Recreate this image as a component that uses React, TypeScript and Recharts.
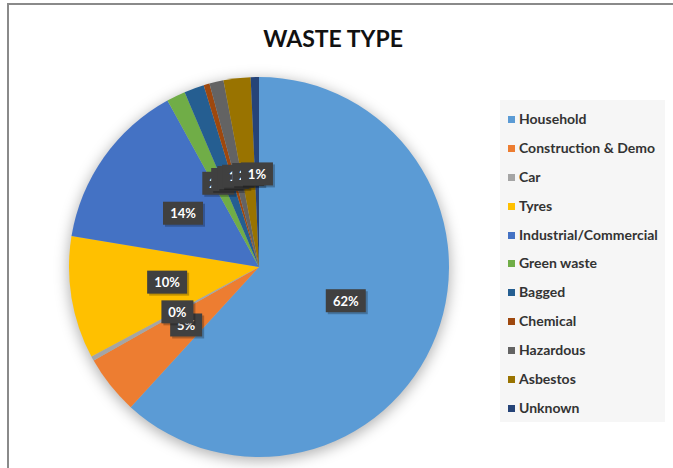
import React from "react";
import { PieChart, Pie, Cell } from "recharts";

const categories = [
  "Household",
  "Construction & Demo",
  "Car",
  "Tyres",
  "Industrial/Commercial",
  "Green waste",
  "Bagged",
  "Chemical",
  "Hazardous",
  "Asbestos",
  "Unknown",
];
const shares = [61.8, 5.0, 0.4, 10.4, 14.4, 1.6, 1.7, 0.5, 1.2, 2.3, 0.7];
const colors = [
  "#5b9bd5",
  "#ed7d31",
  "#a5a5a5",
  "#ffc000",
  "#4472c4",
  "#70ad47",
  "#255e91",
  "#9e480e",
  "#636363",
  "#997300",
  "#264478",
];

const data = categories.map((name, i) => ({ name, value: shares[i] }));
const shadowData = [{ name: "shadow", value: shares.reduce((a, b) => a + b, 0) }];

const FONT = "Lato, 'Open Sans', sans-serif";
const RAD = Math.PI / 180;

const renderLabel = (props: any) => {
  const { cx, cy, midAngle, outerRadius, percent } = props;
  const r = outerRadius * 0.49;
  const x = cx + r * Math.cos(-midAngle * RAD);
  const y = cy + r * Math.sin(-midAngle * RAD);
  const text = `${Math.round(percent * 100)}%`;
  const w = text.length * 8 + 16;
  const h = 23;
  return (
    <g>
      <rect x={x - w / 2 + 2} y={y - h / 2 + 2} width={w} height={h} fill="#000" opacity={0.25} />
      <rect x={x - w / 2} y={y - h / 2} width={w} height={h} fill="#404040" />
      <text
        x={x}
        y={y}
        fill="#fff"
        textAnchor="middle"
        dominantBaseline="central"
        fontFamily={FONT}
        fontWeight={700}
        fontSize={13}
      >
        {text}
      </text>
    </g>
  );
};

const LegendBox = () => (
  <div
    style={{
      position: "absolute",
      left: 500,
      top: 100,
      width: 165,
      height: 322,
      background: "#f6f6f6",
      paddingTop: 10,
      boxSizing: "border-box",
    }}
  >
    {categories.map((name, i) => (
      <div
        key={name}
        style={{
          height: 28.9,
          display: "flex",
          alignItems: "flex-start",
          fontFamily: FONT,
          fontWeight: 700,
          fontSize: 14,
          color: "#333",
          lineHeight: "17px",
          whiteSpace: "nowrap",
        }}
      >
        <span
          style={{
            display: "inline-block",
            width: 7,
            height: 7,
            background: colors[i],
            marginLeft: 8,
            marginRight: 4,
            marginTop: 6,
          }}
        />
        {name}
      </div>
    ))}
  </div>
);

export default function App() {
  return (
    <div
      style={{
        position: "absolute",
        left: 0,
        top: 0,
        width: 673,
        height: 468,
        overflow: "hidden",
        background: "#fff",
      }}
    >
      <div
        style={{
          position: "absolute",
          left: 7,
          top: 3,
          width: 700,
          height: 500,
          border: "2px solid #8a8a8a",
          boxSizing: "border-box",
        }}
      />
      <div
        style={{
          position: "absolute",
          left: 0,
          top: 24,
          width: 666,
          textAlign: "center",
          fontFamily: FONT,
          fontWeight: 700,
          fontSize: 23,
          color: "#111",
        }}
      >
        WASTE TYPE
      </div>
      {/* soft shadow under the pie */}
      <div style={{ position: "absolute", left: 0, top: 0, filter: "blur(7px)" }}>
        <PieChart width={673} height={468}>
          <Pie
            data={shadowData}
            dataKey="value"
            cx={254}
            cy={265}
            outerRadius={191}
            startAngle={90}
            endAngle={-270}
            stroke="none"
            fill="#000"
            fillOpacity={0.3}
            isAnimationActive={false}
          />
        </PieChart>
      </div>
      <div style={{ position: "absolute", left: 0, top: 0 }}>
        <PieChart width={673} height={468}>
          <Pie
            data={data}
            dataKey="value"
            nameKey="name"
            cx={254}
            cy={262}
            outerRadius={190}
            startAngle={90}
            endAngle={-270}
            stroke="none"
            label={renderLabel}
            labelLine={false}
            isAnimationActive={false}
          >
            {data.map((d, i) => (
              <Cell key={d.name} fill={colors[i]} />
            ))}
          </Pie>
        </PieChart>
      </div>
      <LegendBox />
    </div>
  );
}
